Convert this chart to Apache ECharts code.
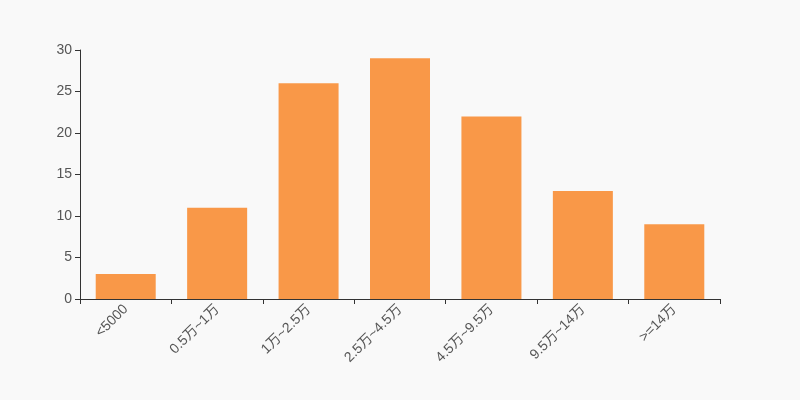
<!DOCTYPE html>
<html><head><meta charset="utf-8">
<script src="https://cdn.jsdelivr.net/npm/echarts@6/dist/echarts.min.js"></script>
<style>html,body{margin:0;padding:0;background:#f9f9f9;}#c{width:800px;height:400px;}</style>
</head><body><div id="c"></div>
<script>
const categories = ['<5000','0.5万~1万','1万~2.5万','2.5万~4.5万','4.5万~9.5万','9.5万~14万','>=14万'];
const values = [3, 11, 26, 29, 22, 13, 9];
const yTicks = {min: 0, max: 30, interval: 5};
const FONT = 'Arial, "Liberation Sans", "Noto Sans CJK SC", sans-serif';
const chart = echarts.init(document.getElementById('c'));
chart.setOption({
  backgroundColor: '#f9f9f9',
  animation: false,
  grid: {left: 80, right: 80, top: 50, bottom: 101},
  xAxis: {
    type: 'category', data: categories,
    axisLine: {lineStyle: {color: '#333'}},
    axisTick: {show: true, alignWithLabel: false, length: 5, lineStyle: {color: '#333'}},
    axisLabel: {rotate: 45, color: '#555', fontSize: 14, fontFamily: FONT, interval: 0, margin: 8}
  },
  yAxis: {
    type: 'value', min: yTicks.min, max: yTicks.max, interval: yTicks.interval,
    axisLine: {show: true, lineStyle: {color: '#333'}},
    axisTick: {show: true, length: 5, lineStyle: {color: '#333'}},
    splitLine: {show: false},
    axisLabel: {color: '#555', fontSize: 14, fontFamily: FONT, margin: 8}
  },
  series: [{type: 'bar', data: values, barWidth: 60, itemStyle: {color: '#f99848'}}]
});
</script></body></html>
